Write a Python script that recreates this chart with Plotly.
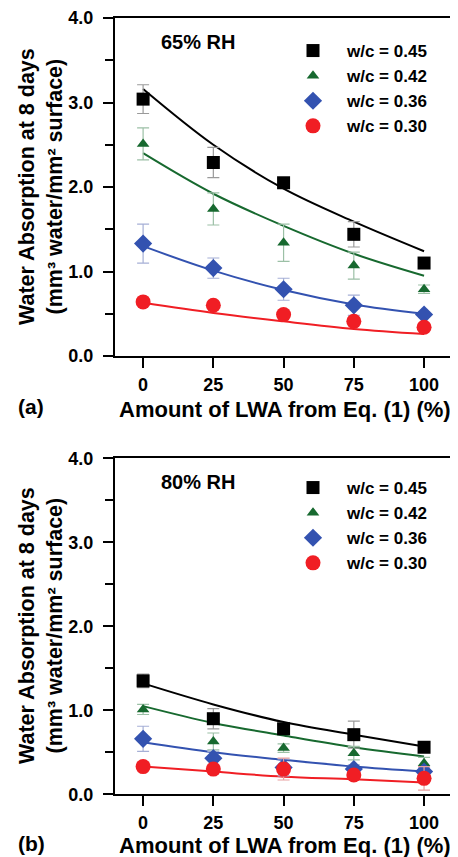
import plotly.graph_objects as go

# ---------------- data ----------------
lwa_pct = [0, 25, 50, 75, 100]
series_labels = ["w/c = 0.45", "w/c = 0.42", "w/c = 0.36", "w/c = 0.30"]

# (a) 65% RH - measured
rh65_wc045 = [3.04, 2.29, 2.05, 1.44, 1.10]
rh65_wc042 = [2.51, 1.74, 1.34, 1.07, 0.79]
rh65_wc036 = [1.33, 1.04, 0.79, 0.60, 0.49]
rh65_wc030 = [0.64, 0.60, 0.49, 0.41, 0.34]
rh65_err045 = [0.17, 0.18, 0.05, 0.15, 0.05]
rh65_err042 = [0.19, 0.19, 0.22, 0.16, 0.05]
rh65_err036 = [0.23, 0.12, 0.13, 0.12, 0.03]
rh65_err030 = [0.03, 0.03, 0.04, 0.04, 0.04]
# (a) fitted curves
rh65_fit045 = [3.16, 2.50, 1.98, 1.59, 1.24]
rh65_fit042 = [2.40, 1.92, 1.54, 1.21, 0.95]
rh65_fit036 = [1.30, 1.01, 0.78, 0.61, 0.50]
rh65_fit030 = [0.63, 0.51, 0.41, 0.32, 0.26]

# (b) 80% RH - measured
rh80_wc045 = [1.35, 0.90, 0.78, 0.71, 0.56]
rh80_wc042 = [1.01, 0.63, 0.55, 0.49, 0.37]
rh80_wc036 = [0.66, 0.43, 0.32, 0.30, 0.27]
rh80_wc030 = [0.33, 0.30, 0.30, 0.23, 0.19]
rh80_err045 = [0.08, 0.12, 0.04, 0.16, 0.05]
rh80_err042 = [0.06, 0.10, 0.05, 0.08, 0.07]
rh80_err036 = [0.15, 0.08, 0.10, 0.05, 0.05]
rh80_err030 = [0.03, 0.04, 0.13, 0.04, 0.14]
# (b) fitted curves
rh80_fit045 = [1.32, 1.07, 0.86, 0.71, 0.57]
rh80_fit042 = [1.05, 0.85, 0.70, 0.56, 0.45]
rh80_fit036 = [0.62, 0.50, 0.41, 0.33, 0.27]
rh80_fit030 = [0.33, 0.27, 0.21, 0.18, 0.14]

# ---------------- styles ----------------
colors = ["#000000", "#17692f", "#3352b0", "#f01e24"]
err_colors = ["#9a9a9a", "#9cc0a6", "#a6b0d6", "#e8a0a0"]
symbols = ["square", "triangle-up", "diamond", "circle"]
sizes = [13, 11, 14, 15]

W, H = 458, 857
OFF = 8  # page offset of the plot div inside the browser window
FONT = "Liberation Sans"

def px(xp):
    return (xp - OFF) / W

def py(yp):
    return 1 - (yp - OFF) / H

fig = go.Figure()

panels = [
    dict(vals=[rh65_wc045, rh65_wc042, rh65_wc036, rh65_wc030],
         errs=[rh65_err045, rh65_err042, rh65_err036, rh65_err030],
         fits=[rh65_fit045, rh65_fit042, rh65_fit036, rh65_fit030],
         xa="x", ya="y", legend="legend"),
    dict(vals=[rh80_wc045, rh80_wc042, rh80_wc036, rh80_wc030],
         errs=[rh80_err045, rh80_err042, rh80_err036, rh80_err030],
         fits=[rh80_fit045, rh80_fit042, rh80_fit036, rh80_fit030],
         xa="x2", ya="y2", legend="legend2"),
]

for p in panels:
    for i in range(4):
        fig.add_trace(go.Scatter(
            x=lwa_pct, y=p["fits"][i], mode="lines", line_shape="spline",
            line=dict(color=colors[i], width=2), showlegend=False,
            xaxis=p["xa"], yaxis=p["ya"], hoverinfo="skip"))
    for i in range(4):
        fig.add_trace(go.Scatter(
            x=lwa_pct, y=p["vals"][i], mode="markers", name=series_labels[i],
            marker=dict(symbol=symbols[i], size=sizes[i], color=colors[i]),
            error_y=dict(type="data", array=p["errs"][i], color=err_colors[i],
                         thickness=1.2, width=6),
            xaxis=p["xa"], yaxis=p["ya"], legend=p["legend"]))

# ---------------- layout ----------------
xdom = [px(115), px(453)]
ydom_a = [py(356), py(18)]
ydom_b = [py(794.3), py(458.3)]
xrange = [-10, 110.3]
yrange = [0, 4]

tickfont = dict(family=FONT, size=18, color="black", weight="bold")

def xaxis_main(anchor):
    return dict(domain=xdom, range=xrange, anchor=anchor, showline=True, linecolor="black",
                linewidth=2, mirror=True, ticks="outside", ticklen=10, tickwidth=1.5,
                tickcolor="black", tickvals=lwa_pct, tickfont=tickfont, automargin=False,
                ticklabelstandoff=1, showgrid=False, zeroline=False, fixedrange=True)

def yaxis_main(dom, anchor):
    return dict(domain=dom, range=yrange, anchor=anchor, showline=True, linecolor="black",
                linewidth=2, mirror=True, ticks="outside", ticklen=10, tickwidth=1.5,
                tickcolor="black", tickvals=[0, 1, 2, 3, 4],
                ticktext=["0.0", "1.0", "2.0", "3.0", "4.0"], tickfont=tickfont,
                minor=dict(tickvals=[0.5, 1.5, 2.5, 3.5], ticks="outside", ticklen=8,
                           tickwidth=1.5, tickcolor="black"), automargin=False,
                ticklabelstandoff=6, showgrid=False, zeroline=False, fixedrange=True)

def xaxis_top(over, anchor):
    return dict(overlaying=over, side="top", anchor=anchor, range=xrange, domain=xdom,
                ticks="outside", ticklen=10, tickwidth=1.5, tickcolor="black",
                tickvals=[4.3, 28.1, 52, 76, 100], showticklabels=False, automargin=False,
                showgrid=False, zeroline=False, showline=False, fixedrange=True)

def yaxis_right(over, anchor, dom):
    return dict(overlaying=over, side="right", anchor=anchor, range=yrange, domain=dom,
                ticks="inside", ticklen=7, tickwidth=1.5, tickcolor="black",
                tickvals=[0.5, 1, 1.5, 2, 2.5, 3, 3.5], showticklabels=False, automargin=False,
                showgrid=False, zeroline=False, showline=False, fixedrange=True)

legfont = dict(family=FONT, size=17, color="black", weight="bold")

fig.update_layout(
    width=W, height=H,
    margin=dict(l=0, r=0, t=0, b=0, autoexpand=False),
    paper_bgcolor="white", plot_bgcolor="white",
    font=dict(family=FONT, color="black"),
    xaxis=xaxis_main("y"),
    yaxis=yaxis_main(ydom_a, "x"),
    xaxis2=xaxis_main("y2"),
    yaxis2=yaxis_main(ydom_b, "x2"),
    xaxis3=xaxis_top("x", "y"),
    yaxis3=yaxis_right("y", "x", ydom_a),
    xaxis4=xaxis_top("x2", "y2"),
    yaxis4=yaxis_right("y2", "x2", ydom_b),
    legend=dict(x=px(279), y=py(33), xanchor="left", yanchor="top", itemwidth=58,
                font=legfont, bgcolor="rgba(0,0,0,0)", tracegroupgap=0,
                itemclick=False, itemdoubleclick=False),
    legend2=dict(x=px(279), y=py(470), xanchor="left", yanchor="top", itemwidth=58,
                 font=legfont, bgcolor="rgba(0,0,0,0)", tracegroupgap=0,
                 itemclick=False, itemdoubleclick=False),
    showlegend=True,
)

xt_font = dict(family=FONT, size=22, color="black", weight="bold")
yt_font = dict(family=FONT, size=21.5, color="black", weight="bold")
lab_font = dict(family=FONT, size=21, color="black", weight="bold")
rh_font = dict(family=FONT, size=20, color="black", weight="bold")
annos = [
    dict(text="65% RH", x=px(197.5), y=py(42), font=rh_font),
    dict(text="80% RH", x=px(198), y=py(481.5), font=rh_font),
    dict(text="Amount of LWA from Eq. (1) (%)", x=px(285), y=py(409), font=xt_font),
    dict(text="Amount of LWA from Eq. (1) (%)", x=px(285), y=py(845), font=xt_font),
    dict(text="(a)", x=px(31), y=py(406), font=lab_font),
    dict(text="(b)", x=px(31), y=py(843), font=lab_font),
    dict(text="Water Absorption at 8 days<br>(mm³ water/mm² surface)", x=px(41),
         y=py(187), textangle=-90, font=yt_font),
    dict(text="Water Absorption at 8 days<br>(mm³ water/mm² surface)", x=px(41),
         y=py(626), textangle=-90, font=yt_font),
]
for a in annos:
    fig.add_annotation(xref="paper", yref="paper", xanchor="center", yanchor="middle",
                       showarrow=False, **a)

fig.write_html("out.html")
